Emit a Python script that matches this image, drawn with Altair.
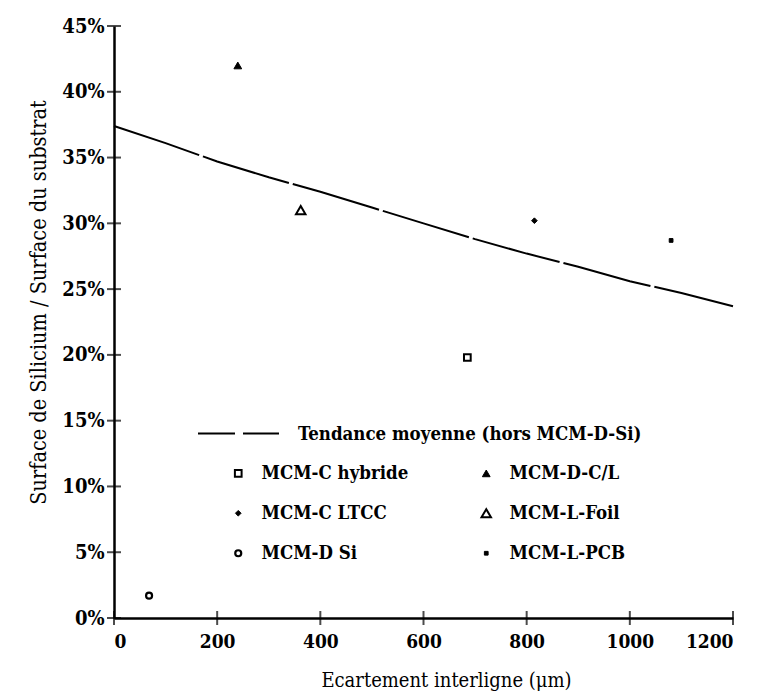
import altair as alt
import pandas as pd

# Data
types = ["MCM-C hybride", "MCM-C LTCC", "MCM-D Si", "MCM-D-C/L", "MCM-L-Foil", "MCM-L-PCB"]
spacing_um = [685, 815, 68, 240, 362, 1080]
ratio = [0.198, 0.302, 0.017, 0.420, 0.310, 0.287]

trend_x = [0, 100, 200, 300, 400, 500, 600, 700, 800, 900, 1000, 1100, 1200]
trend_y = [0.374, 0.361, 0.347, 0.335, 0.324, 0.312, 0.300, 0.288, 0.277, 0.267, 0.256, 0.247, 0.237]
trend_name = "Tendance moyenne (hors MCM-D-Si)"

x_ticks = [0, 200, 400, 600, 800, 1000, 1200]
y_ticks = [0, 0.05, 0.10, 0.15, 0.20, 0.25, 0.30, 0.35, 0.40, 0.45]

shapes = ["square", "diamond", "circle", "triangle-up", "triangle-up", "square"]
fills = ["white", "black", "white", "black", "white", "black"]
sizes = [45, 32, 36, 60, 90, 14]
strokes_w = [2, 1, 2.2, 1, 2, 1]

FONT = "DejaVu Serif Condensed"

pts = pd.DataFrame({"x": spacing_um, "y": ratio, "type": types})
trend = pd.DataFrame({"x": trend_x, "y": trend_y, "s": [trend_name] * len(trend_x)})
xt = pd.DataFrame({"x": x_ticks, "y": [0] * len(x_ticks)})
yt = pd.DataFrame({"y": y_ticks, "x": [0] * len(y_ticks)})

xscale = alt.Scale(domain=[0, 1200], nice=False)
yscale = alt.Scale(domain=[0, 0.45], nice=False)

xaxis = alt.Axis(values=x_ticks, ticks=False, grid=False, labelPadding=14, format="d",
                 labelFont=FONT, labelFontSize=19, labelFontWeight="bold", labelColor="black",
                 domainColor="black", domainWidth=2.5,
                 title="Ecartement interligne (μm)", titleFont=FONT, titleFontSize=20,
                 titleFontWeight="normal", titleColor="black", titlePadding=19,
                 titleX=332, titleAlign="center")
yaxis = alt.Axis(values=y_ticks, ticks=False, grid=False, format=".0%", labelPadding=10,
                 labelFont=FONT, labelFontSize=20, labelFontWeight="bold", labelColor="black",
                 domainColor="black", domainWidth=2.5,
                 title="Surface de Silicium / Surface du substrat", titleFont=FONT, titleFontSize=21.5,
                 titleFontWeight="normal", titleColor="black", titlePadding=11,
                 titleY=276, titleAlign="center")

line = alt.Chart(trend).mark_line(strokeWidth=2, strokeDash=[90, 4]).encode(
    x=alt.X("x:Q", scale=xscale, axis=xaxis),
    y=alt.Y("y:Q", scale=yscale, axis=yaxis),
    color=alt.Color("s:N", scale=alt.Scale(domain=[trend_name], range=["black"]),
                    legend=alt.Legend(orient="none", legendX=83, legendY=366, title=None,
                                      symbolType="stroke", symbolSize=6561, symbolStrokeWidth=2,
                                      symbolDash=[37, 8], labelOffset=18, labelLimit=600,
                                      labelFont=FONT, labelFontSize=18.5, labelFontWeight="bold",
                                      labelColor="black")),
)

leg = alt.Legend(orient="none", legendX=115, legendY=438, title=None, columns=2,
                 columnPadding=68, rowPadding=21, labelOffset=14,
                 labelLimit=400,
                 labelFont=FONT, labelFontSize=18.5, labelFontWeight="bold", labelColor="black")

points = alt.Chart(pts).mark_point(filled=False, color="black", opacity=1).encode(
    x=alt.X("x:Q", scale=xscale),
    y=alt.Y("y:Q", scale=yscale),
    shape=alt.Shape("type:N", scale=alt.Scale(domain=types, range=shapes), legend=leg),
    fill=alt.Fill("type:N", scale=alt.Scale(domain=types, range=fills), legend=leg),
    stroke=alt.Stroke("type:N", scale=alt.Scale(domain=types, range=["black"] * len(types)), legend=leg),
    size=alt.Size("type:N", scale=alt.Scale(type="ordinal", domain=types, range=sizes), legend=leg),
    strokeWidth=alt.StrokeWidth("type:N", scale=alt.Scale(type="ordinal", domain=types, range=strokes_w),
                                legend=leg),
)

xtick_marks = alt.Chart(xt).mark_tick(orient="vertical", size=14, thickness=2, color="black").encode(
    x=alt.X("x:Q", scale=xscale), y=alt.Y("y:Q", scale=yscale))
ytick_marks = alt.Chart(yt).mark_tick(orient="horizontal", size=14, thickness=2, color="black").encode(
    x=alt.X("x:Q", scale=xscale), y=alt.Y("y:Q", scale=yscale))

chart = alt.layer(line, points, xtick_marks, ytick_marks).properties(
    width=619, height=592,
    autosize=alt.AutoSizeParams(type="none"),
    padding={"left": 114, "top": 26, "right": 28, "bottom": 77},
    background="white",
).configure_view(stroke=None).resolve_legend(color="independent")

chart.save("out.html", embed_options={"renderer": "svg", "actions": False})
